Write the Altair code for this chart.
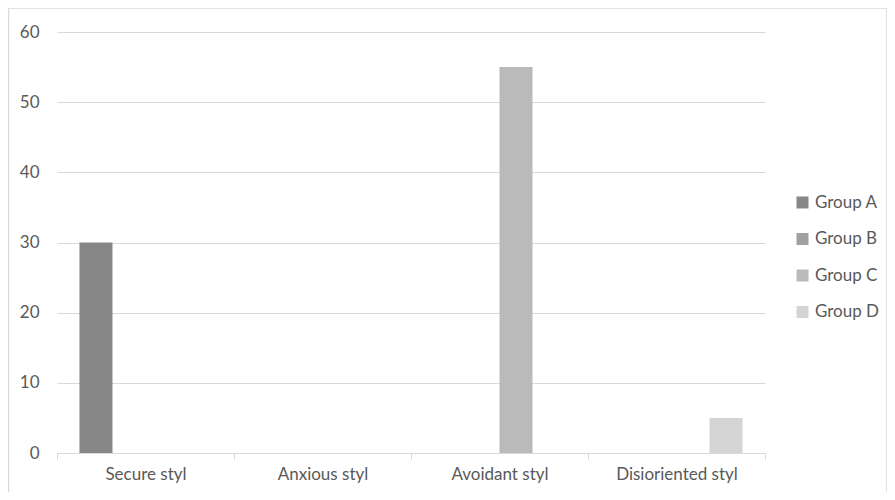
import altair as alt
import pandas as pd

categories = ["Secure styl", "Anxious styl", "Avoidant styl", "Disioriented styl"]
groups = ["Group A", "Group B", "Group C", "Group D"]
group_a = [30, 0, 0, 0]
group_b = [0, 0, 0, 0]
group_c = [0, 0, 55, 0]
group_d = [0, 0, 0, 5]
colors = ["#878787", "#a0a0a0", "#bababa", "#d4d4d4"]
y_ticks = [0, 10, 20, 30, 40, 50, 60]

rows = []
for g, vals in zip(groups, [group_a, group_b, group_c, group_d]):
    for c, v in zip(categories, vals):
        rows.append({"category": c, "group": g, "value": v})
df = pd.DataFrame(rows)

FONT = "Lato"
TXT = "#595959"
GRID = "#d9d9d9"
FS = 17

bars = alt.Chart(df).mark_bar().encode(
    x=alt.X("category:N", sort=categories,
            scale=alt.Scale(paddingInner=0, paddingOuter=0),
            axis=alt.Axis(title=None, labelAngle=0, tickBand="extent",
                          domainColor=GRID, tickColor=GRID, tickSize=6,
                          labelPadding=7, grid=False, labelFontSize=FS,
                          labelColor=TXT, labelFont=FONT)),
    xOffset=alt.XOffset("group:N", sort=groups,
                        scale=alt.Scale(paddingInner=0, paddingOuter=0.68)),
    y=alt.Y("value:Q", scale=alt.Scale(domain=[0, 60]),
            axis=alt.Axis(title=None, values=y_ticks, domain=False, ticks=False,
                          gridColor=GRID, labelPadding=18, labelFontSize=FS,
                          labelColor=TXT, labelFont=FONT)),
    color=alt.Color("group:N", sort=groups,
                    scale=alt.Scale(domain=groups, range=colors),
                    legend=alt.Legend(title=None, orient="none", legendX=737, legendY=162,
                                      symbolType="square", symbolSize=144,
                                      symbolStrokeWidth=0, rowPadding=18.5,
                                      labelFontSize=FS, labelColor=TXT,
                                      labelFont=FONT, labelOffset=4)),
)

border = alt.Chart(alt.Data(values=[{}])).mark_rect(
    fillOpacity=0, stroke=GRID, strokeWidth=1.5, clip=False
).encode(
    x=alt.value(-48.5), x2=alt.value(830),
    y=alt.value(-24), y2=alt.value(480),
)

chart = alt.layer(border, bars).properties(
    width=708, height=421,
    autosize=alt.AutoSizeParams(type="none"),
    padding={"left": 49, "top": 24, "right": 122, "bottom": 39},
).configure_view(stroke=None)

chart.save("out.html", embed_options={"renderer": "svg", "actions": False})
